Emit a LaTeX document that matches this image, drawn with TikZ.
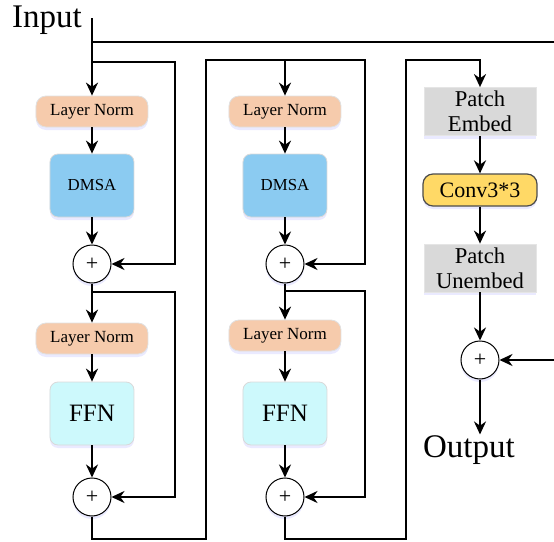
\documentclass[tikz,border=0pt]{standalone}
\usepackage{fontspec}
\setmainfont{Liberation Serif}
\usetikzlibrary{arrows.meta,shadows}

\definecolor{lncol}{HTML}{F6CBAC}
\definecolor{msacol}{HTML}{8BCBF1}
\definecolor{ffncol}{HTML}{CDF9FC}
\definecolor{patchcol}{HTML}{D9D9D9}
\definecolor{convcol}{HTML}{FFD966}

\begin{document}
\begin{tikzpicture}[x=0.5pt,y=-0.5pt,>={Stealth[length=6.5pt,width=6pt]},line width=1.1pt,
  glow/.style={drop shadow={shadow xshift=0pt,shadow yshift=-1.5pt,opacity=0.18,fill=blue!45}},
  norm/.style={rectangle,rounded corners=5pt,fill=lncol,draw=black!12,line width=0.4pt,
    minimum width=56pt,minimum height=15.5pt,font=\fontsize{8.5}{10}\selectfont,glow},
  msa/.style={rectangle,rounded corners=4pt,fill=msacol,draw=black!15,line width=0.4pt,
    minimum width=42pt,minimum height=31.5pt,font=\fontsize{8.4}{10}\selectfont,glow},
  ffn/.style={msa,fill=ffncol,font=\fontsize{12.5}{14}\selectfont},
  patch/.style={rectangle,fill=patchcol,draw=black!10,line width=0.4pt,align=center,
    minimum width=56pt,minimum height=24pt,inner sep=1pt,
    font=\fontsize{11.3}{12.6}\selectfont,glow},
  conv/.style={rectangle,rounded corners=5pt,fill=convcol,draw=black!70,line width=0.6pt,
    minimum width=57pt,minimum height=16pt,font=\fontsize{11}{13}\selectfont,glow},
  add/.style={circle,draw,fill=white,line width=0.5pt,minimum size=19pt,inner sep=0pt,
    font=\fontsize{11}{12}\selectfont,glow},
  io/.style={font=\fontsize{16.5}{18}\selectfont,inner sep=0pt}]
  \useasboundingbox (0,0) rectangle (554,542);

  % first block
  \node[io]    (in)   at (47,20)        {Input};
  \node[norm]  (ln1)  at (92,111.5)     {Layer Norm};
  \node[msa]   (msa1) [below of=ln1,  node distance=37pt]    {DMSA};
  \node[add]   (add1) [below of=msa1, node distance=39.25pt] {+};
  \node[norm]  (ln2)  [below of=add1, node distance=37.25pt] {Layer Norm};
  \node[ffn]   (ffn1) [below of=ln2,  node distance=37.5pt]  {FFN};
  \node[add]   (add2) [below of=ffn1, node distance=41.75pt] {+};

  % second block
  \node[norm]  (ln3)  [right of=ln1,  node distance=96.5pt]  {Layer Norm};
  \node[msa]   (msa2) [right of=msa1, node distance=96.5pt]  {DMSA};
  \node[add]   (add3) [right of=add1, node distance=96.5pt]  {+};
  \node[norm]  (ln4)  at (285,335.5)    {Layer Norm};
  \node[ffn]   (ffn2) [right of=ffn1, node distance=96.5pt]  {FFN};
  \node[add]   (add4) [right of=add2, node distance=96.5pt]  {+};

  % conv branch
  \node[patch] (pe)   at (480,111.5)    {Patch\\Embed};
  \node[conv]  (conv) at (480,190)      {Conv3*3};
  \node[patch] (pu)   at (480,268)      {Patch\\Unembed};
  \node[add]   (add5) at (480,360)      {+};
  \node[io]    (out)  at (469,450)      {Output};

  \coordinate (top) at (92,18);
  \coordinate (rin) at (554,360);

  \draw[->] (top) -- (ln1);
  \draw (92,42) -- (554,42);
  \draw[->] (ln1) -- (msa1);
  \draw[->] (msa1) -- (add1);
  \draw[->] (92,62) -- (175,62) |- (add1);
  \draw[->] (add1) -- (ln2);
  \draw[->] (ln2) -- (ffn1);
  \draw[->] (ffn1) -- (add2);
  \draw[->] (92,292) -- (175,292) |- (add2);
  \draw[->] (add2) -- (92,539) -| (206,60) -| (ln3);

  \draw[->] (ln3) -- (msa2);
  \draw[->] (msa2) -- (add3);
  \draw[->] (285,60) -- (365,60) |- (add3);
  \draw[->] (add3) -- (ln4);
  \draw[->] (ln4) -- (ffn2);
  \draw[->] (ffn2) -- (add4);
  \draw[->] (285,291) -- (365,291) |- (add4);
  \draw[->] (add4) -- (285,539) -| (406,60) -| (pe);

  \draw[->] (pe) -- (conv);
  \draw[->] (conv) -- (pu);
  \draw[->] (pu) -- (add5);
  \draw[->] (rin) -- (add5);
  \draw[->] (add5) -- (add5 |- out.north);
\end{tikzpicture}
\end{document}
